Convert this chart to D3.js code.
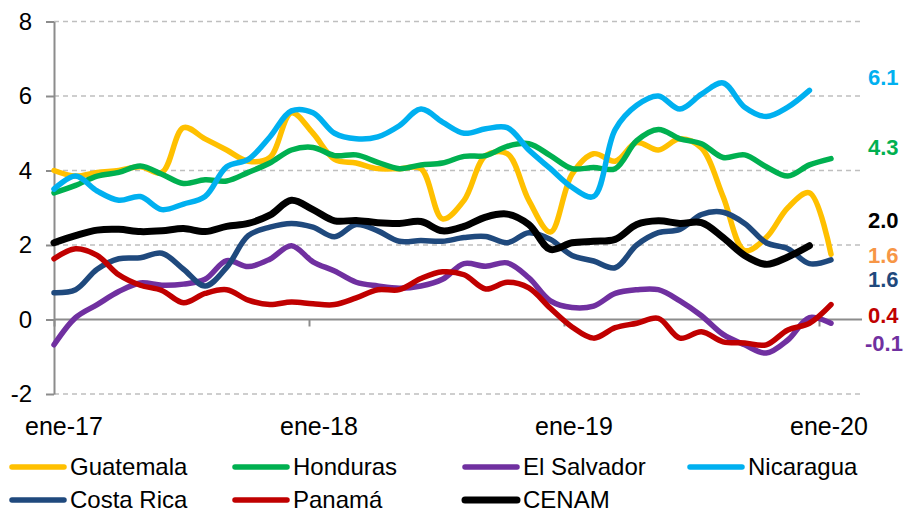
<!DOCTYPE html>
<html>
<head>
<meta charset="utf-8">
<script src="https://cdn.jsdelivr.net/npm/d3@7"></script>
<style>
  html, body { margin: 0; padding: 0; background: #fff; }
  svg { display: block; font-family: Arial, "Liberation Sans", sans-serif; }
</style>
</head>
<body>
<svg id="chart" width="905" height="513"></svg>
<script>
// ---- Data (monthly, ene-17 onward) ----
const months = d3.range(37); // 0 = ene-17 ... 36 = ene-20
const xTickMonths = [0, 12, 24, 36];
const xTickLabels = ["ene-17", "ene-18", "ene-19", "ene-20"];
const yTicks = [-2, 0, 2, 4, 6, 8];

const guatemala = [4.0,3.85,3.95,4.0,4.1,3.95,5.15,4.85,4.55,4.25,4.35,5.55,5.0,4.3,4.2,4.05,4.05,4.05,2.7,3.2,4.4,4.45,3.2,2.35,3.9,4.45,4.25,4.75,4.55,4.85,4.6,3.3,1.85,2.2,3.0,3.4,1.75];
const honduras = [3.4,3.6,3.85,3.95,4.12,3.9,3.65,3.75,3.72,3.95,4.2,4.55,4.62,4.4,4.42,4.22,4.05,4.15,4.2,4.38,4.4,4.65,4.72,4.4,4.05,4.08,4.05,4.8,5.1,4.85,4.72,4.35,4.42,4.1,3.85,4.15,4.32];
const elSalvador = [-0.68,0.05,0.4,0.75,0.98,0.92,0.95,1.08,1.58,1.42,1.62,1.98,1.55,1.3,1.0,0.9,0.84,0.9,1.08,1.5,1.43,1.52,1.12,0.5,0.32,0.36,0.7,0.8,0.8,0.5,0.1,-0.4,-0.68,-0.9,-0.55,0.05,-0.1];
const nicaragua = [3.5,3.85,3.45,3.2,3.3,2.95,3.1,3.3,4.1,4.3,4.9,5.6,5.55,5.0,4.85,4.9,5.2,5.65,5.3,5.0,5.12,5.15,4.55,4.05,3.55,3.3,5.1,5.75,6.0,5.65,6.05,6.35,5.7,5.45,5.7,6.15];
const costaRica = [0.72,0.8,1.35,1.63,1.66,1.78,1.35,0.9,1.4,2.25,2.48,2.58,2.48,2.22,2.55,2.38,2.1,2.12,2.1,2.2,2.23,2.06,2.33,2.15,1.72,1.57,1.39,2.0,2.33,2.42,2.82,2.88,2.58,2.06,1.9,1.5,1.6];
const panama = [1.63,1.9,1.72,1.2,0.92,0.78,0.45,0.7,0.8,0.52,0.4,0.47,0.42,0.4,0.58,0.8,0.8,1.1,1.28,1.2,0.82,1.0,0.85,0.3,-0.2,-0.5,-0.22,-0.1,0.03,-0.5,-0.33,-0.6,-0.63,-0.68,-0.28,-0.1,0.4];
const cenam = [2.06,2.25,2.4,2.42,2.36,2.38,2.44,2.36,2.5,2.58,2.8,3.2,2.95,2.65,2.66,2.6,2.58,2.63,2.38,2.5,2.75,2.83,2.55,1.88,2.06,2.1,2.15,2.55,2.65,2.58,2.6,2.2,1.72,1.48,1.68,1.98];

const seriesNames = ["Guatemala", "Honduras", "El Salvador", "Nicaragua", "Costa Rica", "Panamá", "CENAM"];
const seriesValues = [guatemala, honduras, elSalvador, nicaragua, costaRica, panama, cenam];

const endLabels = ["6.1", "4.3", "2.0", "1.6", "1.6", "0.4", "-0.1"];

// ---- Styles / layout ----
const seriesColors = ["#FFC000", "#00B050", "#7030A0", "#00B0F0", "#1F497D", "#C00000", "#000000"];
const seriesWidths = [5.5, 5.5, 5.5, 5.5, 5.5, 5.5, 7];
const endLabelColors = ["#00B0F0", "#00B050", "#000000", "#F79646", "#1F497D", "#C00000", "#7030A0"];
const endLabelY = [77, 147, 220, 255, 279, 315, 343];
const endLabelX = [868, 868, 868, 868, 868, 868, 865];

const svg = d3.select("#chart");
const plotLeft = 54, plotRight = 862;

const x = d3.scaleLinear().domain([0, 36]).range([54, 831]);
const xTick = d3.scaleLinear().domain([0, 36]).range([54, 819]);
const y = d3.scaleLinear().domain([-2, 8]).range([394, 21.5]);

// gridlines
svg.append("g").selectAll("line")
  .data(yTicks.filter(d => d !== 0))
  .join("line")
  .attr("x1", plotLeft).attr("x2", plotRight)
  .attr("y1", d => y(d)).attr("y2", d => y(d))
  .attr("stroke", "#BFBFBF").attr("stroke-width", 1.3)
  .attr("stroke-dasharray", "5,4");

// y axis
const yAxis = svg.append("g")
  .attr("transform", `translate(${plotLeft},0)`)
  .call(d3.axisLeft(y).tickValues(yTicks).tickSize(8).tickPadding(14).tickSizeOuter(0).tickFormat(d => String(d)));
yAxis.select(".domain").attr("stroke", "#8C8C8C").attr("stroke-width", 2);
yAxis.selectAll(".tick line").attr("stroke", "#8C8C8C").attr("stroke-width", 2);
yAxis.selectAll(".tick text").attr("font-size", 24).attr("fill", "#000")
  .attr("font-family", "Arial, 'Liberation Sans', sans-serif");

// x axis at zero
const xAxis = svg.append("g")
  .attr("transform", `translate(0,${y(0)})`)
  .call(d3.axisBottom(xTick).tickValues(xTickMonths).tickSize(7).tickSizeOuter(0).tickFormat(""));
xAxis.select(".domain").attr("stroke", "#8C8C8C").attr("stroke-width", 2)
  .attr("d", `M${plotLeft},0H${plotRight}`);
xAxis.selectAll(".tick line").attr("stroke", "#8C8C8C").attr("stroke-width", 2);

// x labels (bottom)
svg.append("g").selectAll("text")
  .data(xTickMonths)
  .join("text")
  .attr("x", d => xTick(d) + 10)
  .attr("y", 435)
  .attr("text-anchor", "middle")
  .attr("font-size", 25)
  .attr("fill", "#000")
  .text((d, i) => xTickLabels[i]);

// lines
const line = d3.line()
  .defined(d => d != null)
  .x((d, i) => x(months[i]))
  .y(d => y(d))
  .curve(d3.curveCatmullRom.alpha(0.5));

svg.append("g").selectAll("path")
  .data(seriesValues)
  .join("path")
  .attr("d", d => line(d))
  .attr("fill", "none")
  .attr("stroke", (d, i) => seriesColors[i])
  .attr("stroke-width", (d, i) => seriesWidths[i])
  .attr("stroke-linecap", "round")
  .attr("stroke-linejoin", "round");

// end labels
svg.append("g").selectAll("text")
  .data(endLabels)
  .join("text")
  .attr("x", (d, i) => endLabelX[i])
  .attr("y", (d, i) => endLabelY[i])
  .attr("dy", "0.36em")
  .attr("font-size", 22)
  .attr("font-weight", "bold")
  .attr("fill", (d, i) => endLabelColors[i])
  .text(d => d);

// legend
const legendCols = [12, 235, 465, 690];
const legendRows = [467, 500];
const legend = svg.append("g").selectAll("g")
  .data(seriesNames)
  .join("g")
  .attr("transform", (d, i) => `translate(${legendCols[i % 4]},${legendRows[Math.floor(i / 4)]})`);
legend.append("line")
  .attr("x1", 0).attr("x2", 52).attr("y1", 0).attr("y2", 0)
  .attr("stroke", (d, i) => seriesColors[i])
  .attr("stroke-width", (d, i) => i === 6 ? 7 : 5.5)
  .attr("stroke-linecap", "round");
legend.append("text")
  .attr("x", 58).attr("y", 0).attr("dy", "0.35em")
  .attr("font-size", 24)
  .attr("fill", "#000")
  .text(d => d);
</script>
</body>
</html>
